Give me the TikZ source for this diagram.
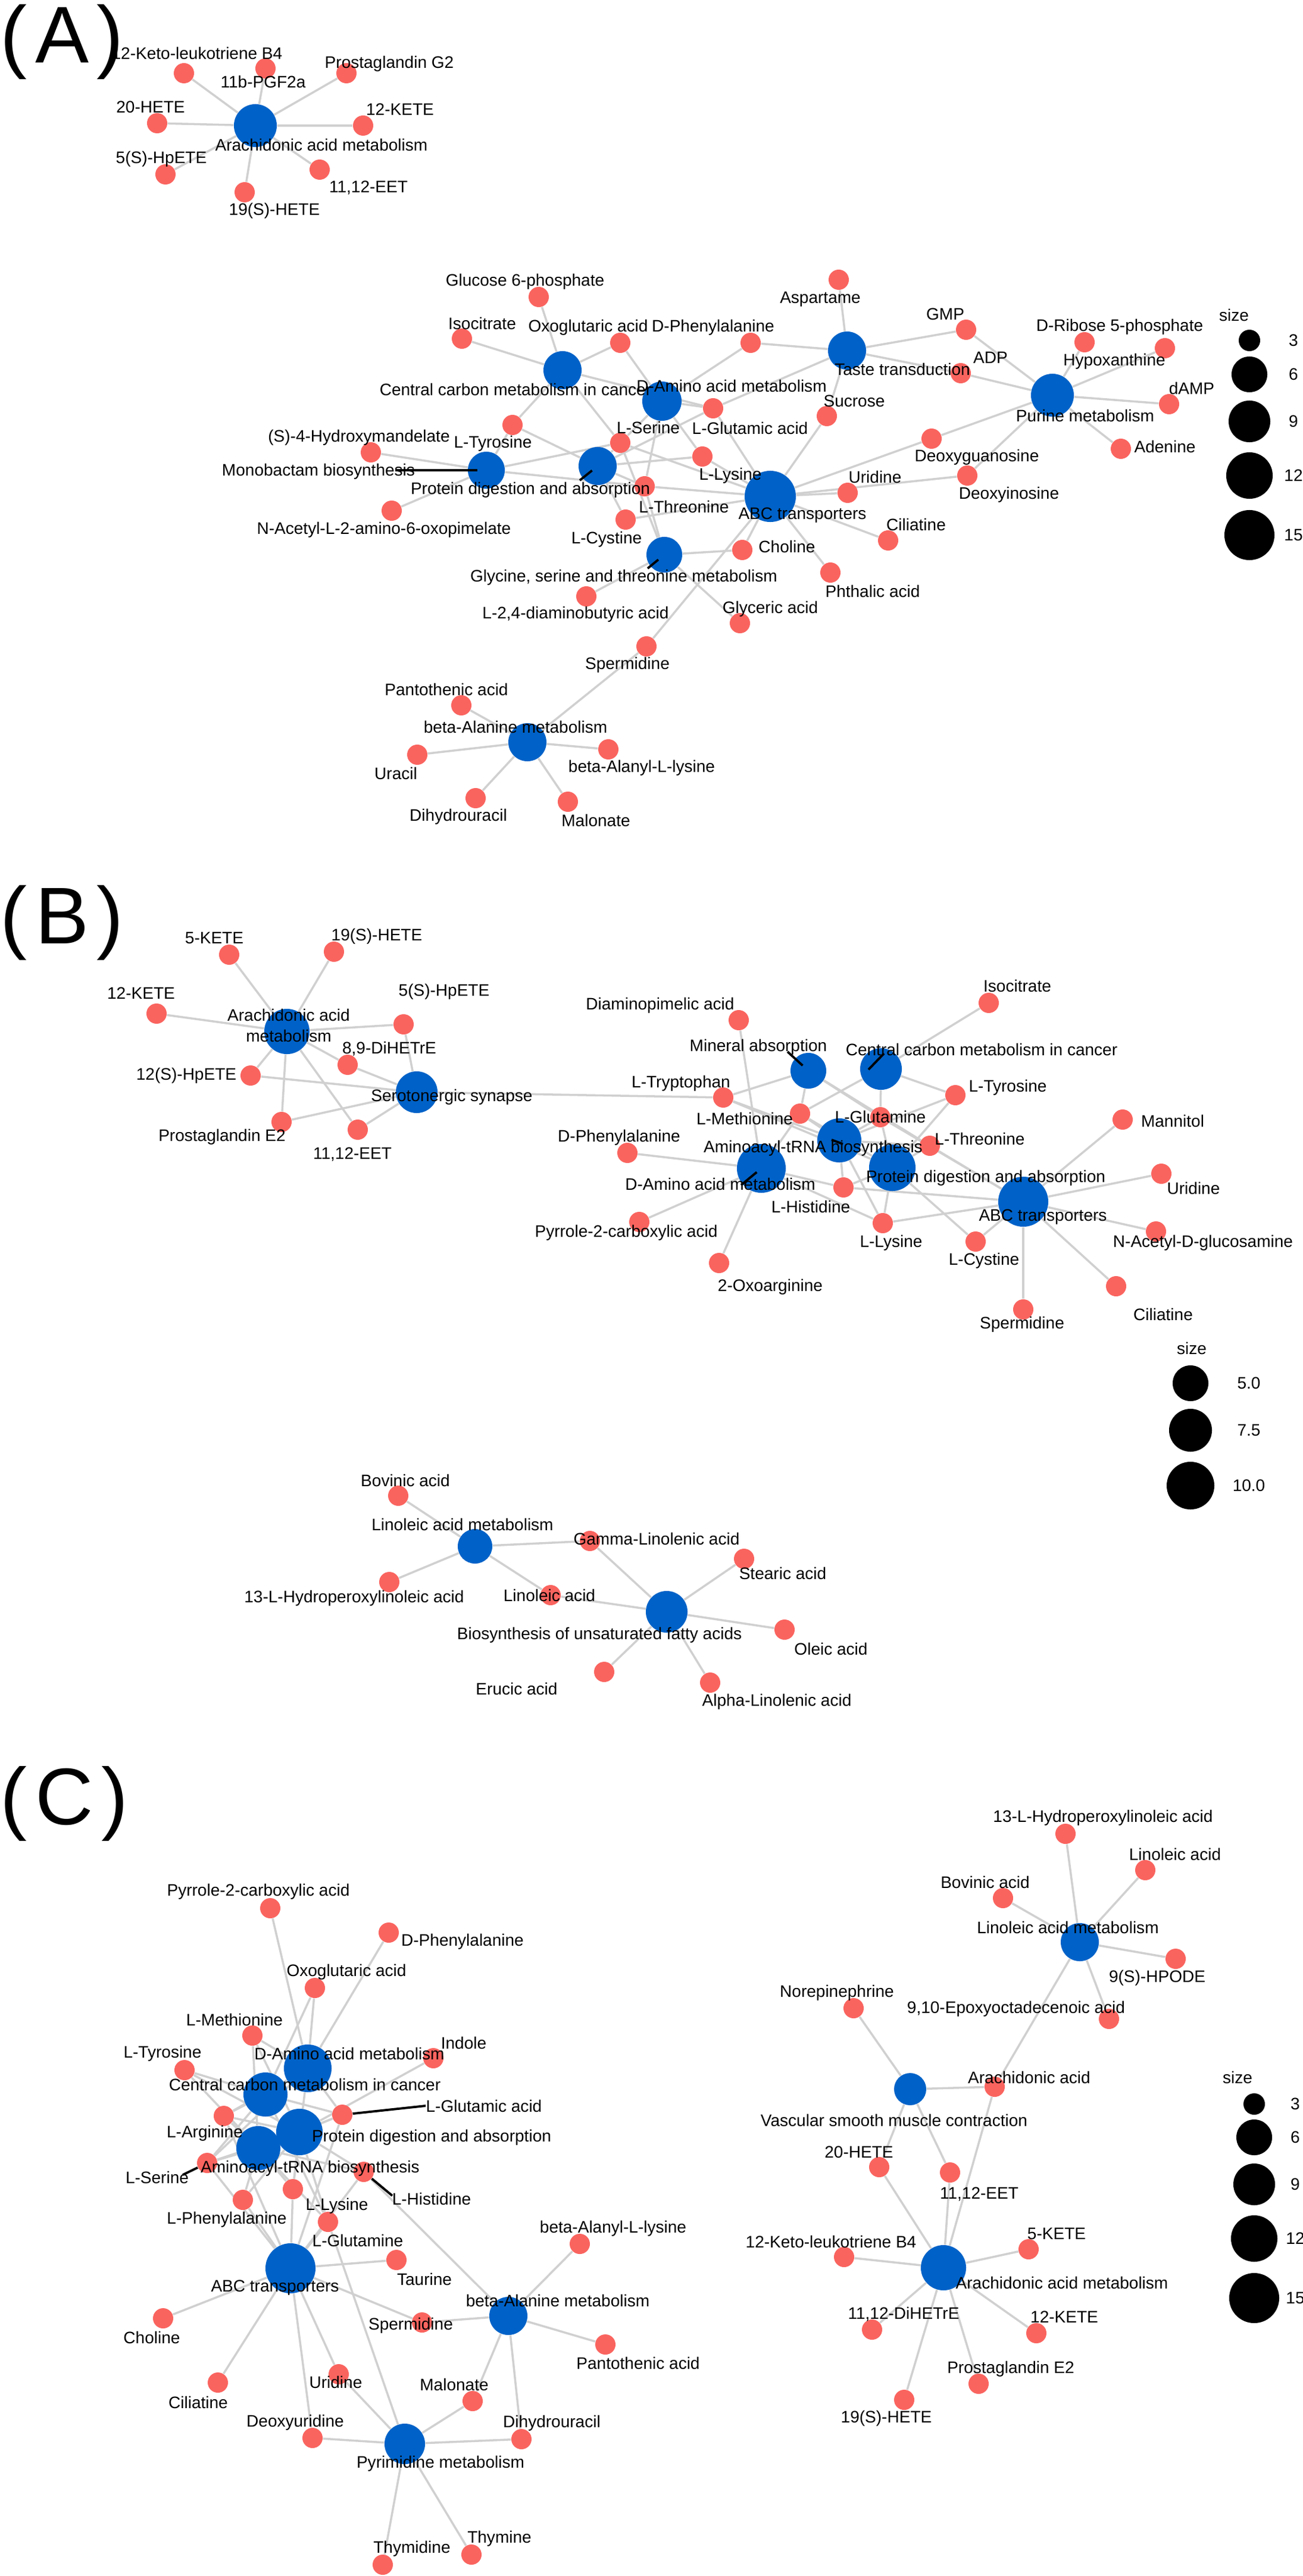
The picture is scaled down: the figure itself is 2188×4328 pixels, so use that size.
\documentclass[tikz,border=0pt]{standalone}
\usepackage{fontspec}
\setmainfont{Liberation Sans}

\definecolor{hubblue}{RGB}{0,98,200}
\definecolor{cpdred}{RGB}{250,100,95}
\definecolor{edgegray}{RGB}{208,208,208}
\newcommand\lblfont{\fontsize{7.97pt}{9.7pt}\selectfont}
\newcommand\tagfont{\fontsize{38.4pt}{40pt}\selectfont}

\pgfdeclarelayer{bg}
\pgfdeclarelayer{fg}
\pgfsetlayers{bg,main,fg}

\tikzset{
  hub/.style={circle, fill=hubblue, inner sep=0pt, minimum size=#1},
  cpd/.style={circle, fill=cpdred, inner sep=0pt, minimum size=0.34cm},
  lbl/.style={font=\lblfont, inner sep=0pt, align=center},
  edge/.style={draw=edgegray, line width=1pt},
  lead/.style={draw=black, line width=1.1pt},
  key/.style={circle, fill=black, inner sep=0pt, minimum size=#1},
  tag/.style={font=\tagfont, inner sep=0pt, anchor=base west},
}

\begin{document}
\begin{tikzpicture}[x=0.01cm, y=-0.01cm]
\useasboundingbox (0,0) rectangle (2188,4328);
\begin{pgfonlayer}{bg}
  \fill[white] (0,0) rectangle (2188,4328);
\end{pgfonlayer}

% panel tags
\node[tag] (tag-a) at (0,106) {(\kern.1em A\kern.1em)};
\node[tag] (tag-b) at (0,1585) {(\kern.1em B\kern.1em)};
\node[tag] (tag-c) at (0,3065) {(\kern.1em C\kern.1em)};

% pathways (name/x/y/radius/label x/label y/text)
\foreach \nm/\x/\y/\rad/\lx/\ly/\txt in {
  a-aam/429/211/36/540/243/Arachidonic acid metabolism,
  a-ccm/945/622/32/866/654/Central carbon metabolism in cancer,
  a-daa/1112/674/33/1229/648/D-Amino acid metabolism,
  a-mb/817/790/31/535/792/Monobactam biosynthesis,
  a-pda/1004/783/32/891/823/Protein digestion and absorption,
  a-abc/1294/834/43/1348/866/ABC transporters,
  a-gst/1116/932/30/1048/970/{Glycine, serine and threonine metabolism},
  a-tt/1423/589/32/1516/620/Taste transduction,
  a-pur/1768/664/36/1823/698/Purine metabolism,
  a-bam/886/1247/32/866/1221/beta-Alanine metabolism,
  b-aam/482/1733/38/485/1723/{Arachidonic acid\\metabolism},
  b-ss/700/1835/35/759/1843/Serotonergic synapse,
  b-ma/1358/1799/30/1274/1759/Mineral absorption,
  b-ccm/1480/1796/35/1649/1763/Central carbon metabolism in cancer,
  b-atr/1410/1916/37/1366/1929/Aminoacyl-tRNA biosynthesis,
  b-daa/1279/1963/41/1210/1989/D-Amino acid metabolism,
  b-pda/1499/1962/39/1656/1979/Protein digestion and absorption,
  b-abc/1719/2019/42/1752/2045/ABC transporters,
  b-lam/798/2598/29/777/2561/Linoleic acid metabolism,
  b-bufa/1120/2708/35/1007/2747/Biosynthesis of unsaturated fatty acids,
  c-daa/517/3475/40/587/3450/D-Amino acid metabolism,
  c-ccm/446/3519/37/512/3502/Central carbon metabolism in cancer,
  c-pda/503/3582/39/725/3591/Protein digestion and absorption,
  c-atr/434/3609/37/521/3643/Aminoacyl-tRNA biosynthesis,
  c-abc/488/3811/42/462/3844/ABC transporters,
  c-bam/854/3891/32/937/3865/beta-Alanine metabolism,
  c-pyr/680/4106/34/740/4139/Pyrimidine metabolism,
  c-lam/1814/3263/32/1794/3238/Linoleic acid metabolism,
  c-vsm/1529/3510/27/1502/3562/Vascular smooth muscle contraction,
  c-aam/1585/3810/38/1784/3835/Arachidonic acid metabolism%
} {
  \node[hub=\rad*0.02cm] (\nm) at (\x,\y) {};
  \begin{pgfonlayer}{fg}\node[lbl] (\nm-l) at (\lx,\ly) {\txt};\end{pgfonlayer}
}

% compounds (name/x/y/label x/label y/text)
\foreach \nm/\x/\y/\lx/\ly/\txt in {
  a-12kl/309/123/331/89/12-Keto-leukotriene B4,
  a-11b/446/115/442/137/11b-PGF2a,
  a-pgg2/582/123/654/107/Prostaglandin G2,
  a-20h/264/207/253/180/20-HETE,
  a-12k/610/211/672/184/12-KETE,
  a-5hp/278/293/271/267/5(S)-HpETE,
  a-eet/537/285/619/316/{11,12-EET},
  a-19h/411/323/461/354/19(S)-HETE,
  a-g6p/905/499/882/473/Glucose 6-phosphate,
  a-iso/776/569/810/543/Isocitrate,
  a-oxo/1042/576/988/550/Oxoglutaric acid,
  a-dphe/1261/576/1198/550/D-Phenylalanine,
  a-glu/1198/686/1260/719/L-Glutamic acid,
  a-tyr/861/714/828/745/L-Tyrosine,
  a-ser/1042/744/1089/718/L-Serine,
  a-hma/623/760/603/735/(S)-4-Hydroxymandelate,
  a-lys/1180/767/1227/799/L-Lysine,
  a-thr/1083/817/1149/851/L-Threonine,
  a-cys/1051/873/1019/906/L-Cystine,
  a-nac/658/858/645/890/N-Acetyl-L-2-amino-6-oxopimelate,
  a-cho/1247/924/1322/918/Choline,
  a-dab/985/1002/967/1032/{L-2,4-diaminobutyric acid},
  a-gly/1243/1047/1294/1023/Glyceric acid,
  a-pht/1395/962/1466/993/Phthalic acid,
  a-cil/1492/908/1539/881/Ciliatine,
  a-uri/1424/828/1470/801/Uridine,
  a-dino/1625/799/1695/831/Deoxyinosine,
  a-dguo/1565/737/1641/768/Deoxyguanosine,
  a-suc/1389/699/1435/674/Sucrose,
  a-asp/1409/470/1378/503/Aspartame,
  a-gmp/1623/554/1588/528/GMP,
  a-adp/1614/627/1664/601/ADP,
  a-r5p/1822/575/1881/549/D-Ribose 5-phosphate,
  a-hyp/1957/585/1872/607/Hypoxanthine,
  a-damp/1964/679/2002/652/dAMP,
  a-ade/1883/754/1957/750/Adenine,
  a-spd/1086/1086/1054/1117/Spermidine,
  a-pan/775/1185/750/1158/Pantothenic acid,
  a-ura/701/1268/665/1299/Uracil,
  a-bal/1022/1259/1078/1290/beta-Alanyl-L-lysine,
  a-dhu/799/1341/770/1372/Dihydrouracil,
  a-mal/954/1347/1001/1378/Malonate,
  b-5kete/385/1604/360/1576/5-KETE,
  b-19h/561/1599/633/1573/19(S)-HETE,
  b-12kete/263/1703/237/1669/12-KETE,
  b-5hp/678/1721/746/1666/5(S)-HpETE,
  b-89d/584/1789/654/1762/{8,9-DiHETrE},
  b-12shp/421/1807/313/1807/12(S)-HpETE,
  b-pge2/473/1885/373/1910/Prostaglandin E2,
  b-eet/601/1898/592/1939/{11,12-EET},
  b-iso/1661/1685/1709/1656/Isocitrate,
  b-dap/1241/1714/1109/1689/Diaminopimelic acid,
  b-trp/1215/1844/1144/1820/L-Tryptophan,
  b-tyr/1605/1840/1693/1827/L-Tyrosine,
  b-met/1344/1871/1251/1879/L-Methionine,
  b-gln/1479/1877/1479/1876/L-Glutamine,
  b-man/1886/1881/1970/1883/Mannitol,
  b-dphe/1054/1937/1040/1911/D-Phenylalanine,
  b-thr/1562/1925/1646/1913/L-Threonine,
  b-his/1417/1995/1362/2027/L-Histidine,
  b-uri/1951/1972/2005/1996/Uridine,
  b-pyr/1074/2053/1052/2071/Pyrrole-2-carboxylic acid,
  b-lys/1483/2055/1497/2088/L-Lysine,
  b-nag/1942/2069/2021/2088/N-Acetyl-D-glucosamine,
  b-cys/1639/2086/1653/2118/L-Cystine,
  b-oxa/1208/2122/1294/2162/2-Oxoarginine,
  b-cil/1875/2161/1954/2208/Ciliatine,
  b-spd/1719/2200/1717/2225/Spermidine,
  b-bov/669/2513/681/2487/Bovinic acid,
  b-gla/991/2589/1103/2585/Gamma-Linolenic acid,
  b-hpl/654/2658/595/2685/13-L-Hydroperoxylinoleic acid,
  b-lin/925/2680/923/2680/Linoleic acid,
  b-ste/1250/2619/1315/2643/Stearic acid,
  b-ole/1318/2738/1396/2770/Oleic acid,
  b-eru/1015/2809/868/2837/Erucic acid,
  b-ala/1193/2827/1305/2859/Alpha-Linolenic acid,
  c-pyc/454/3206/434/3178/Pyrrole-2-carboxylic acid,
  c-dphe/653/3247/777/3262/D-Phenylalanine,
  c-oxo/529/3340/582/3313/Oxoglutaric acid,
  c-met/424/3420/394/3393/L-Methionine,
  c-tyr/310/3478/273/3450/L-Tyrosine,
  c-ind/728/3458/779/3432/Indole,
  c-glu/575/3553/813/3538/L-Glutamic acid,
  c-arg/376/3555/344/3584/L-Arginine,
  c-ser/348/3634/264/3658/L-Serine,
  c-his/611/3649/725/3694/L-Histidine,
  c-lys/492/3678/566/3706/L-Lysine,
  c-phe/408/3696/381/3729/L-Phenylalanine,
  c-gln/551/3733/601/3764/L-Glutamine,
  c-tau/666/3797/713/3829/Taurine,
  c-bal/974/3770/1030/3744/beta-Alanyl-L-lysine,
  c-spd/709/3902/690/3907/Spermidine,
  c-pan/1017/3939/1072/3970/Pantothenic acid,
  c-cho/274/3895/255/3927/Choline,
  c-cil/366/4003/333/4036/Ciliatine,
  c-uri/569/3989/564/4002/Uridine,
  c-mal/794/4034/763/4006/Malonate,
  c-dur/525/4096/496/4070/Deoxyuridine,
  c-dhu/876/4098/927/4071/Dihydrouracil,
  c-thd/643/4309/692/4282/Thymidine,
  c-thy/792/4292/839/4265/Thymine,
  c-hpl/1790/3081/1853/3054/13-L-Hydroperoxylinoleic acid,
  c-lin/1924/3142/1974/3115/Linoleic acid,
  c-bov/1685/3189/1655/3162/Bovinic acid,
  c-hpode/1975/3291/1944/3323/9(S)-HPODE,
  c-nor/1434/3374/1406/3348/Norepinephrine,
  c-epo/1863/3392/1707/3375/{9,10-Epoxyoctadecenoic acid},
  c-ara/1671/3506/1729/3490/Arachidonic acid,
  c-20h/1477/3641/1443/3616/20-HETE,
  c-eet/1596/3650/1645/3686/{11,12-EET},
  c-12kl/1418/3792/1396/3766/12-Keto-leukotriene B4,
  c-5k/1728/3779/1775/3753/5-KETE,
  c-dih/1465/3914/1518/3888/{11,12-DiHETrE},
  c-12k/1741/3920/1788/3893/12-KETE,
  c-pge2/1644/4005/1698/3980/Prostaglandin E2,
  c-19h/1519/4032/1489/4063/19(S)-HETE%
} {
  \node[cpd] (\nm) at (\x,\y) {};
  \begin{pgfonlayer}{fg}\node[lbl] (\nm-l) at (\lx,\ly) {\txt};\end{pgfonlayer}
}

% pathway -- compound edges
\begin{pgfonlayer}{bg}
\foreach \h/\lst in {
  a-aam/{a-12kl,a-11b,a-pgg2,a-20h,a-12k,a-5hp,a-eet,a-19h},
  a-ccm/{a-g6p,a-iso,a-oxo,a-tyr,a-glu,a-ser},
  a-daa/{a-oxo,a-dphe,a-glu,a-ser,a-lys,a-thr},
  a-mb/{a-hma,a-nac,a-tyr,a-ser,a-thr},
  a-pda/{a-tyr,a-ser,a-lys,a-thr,a-cys,a-glu},
  a-gst/{a-ser,a-thr,a-cho,a-dab,a-gly},
  a-abc/{a-glu,a-lys,a-thr,a-ser,a-cys,a-cho,a-cil,a-pht,a-uri,a-dino,a-dguo,a-suc,a-spd},
  a-tt/{a-dphe,a-asp,a-gmp,a-adp,a-glu,a-suc},
  a-pur/{a-gmp,a-adp,a-r5p,a-hyp,a-damp,a-ade,a-dguo,a-dino},
  a-bam/{a-spd,a-pan,a-ura,a-bal,a-dhu,a-mal},
  b-aam/{b-5kete,b-19h,b-12kete,b-5hp,b-89d,b-12shp,b-pge2,b-eet},
  b-ss/{b-5hp,b-89d,b-12shp,b-pge2,b-eet,b-trp},
  b-ma/{b-trp,b-met,b-gln,b-thr},
  b-ccm/{b-iso,b-tyr,b-gln,b-met},
  b-atr/{b-trp,b-met,b-gln,b-tyr,b-thr,b-his,b-lys},
  b-daa/{b-dap,b-dphe,b-pyr,b-oxa,b-met,b-lys,b-his},
  b-pda/{b-trp,b-met,b-gln,b-tyr,b-thr,b-his,b-lys,b-cys},
  b-abc/{b-gln,b-thr,b-his,b-lys,b-cys,b-man,b-uri,b-nag,b-cil,b-spd},
  b-lam/{b-bov,b-gla,b-hpl,b-lin},
  b-bufa/{b-gla,b-lin,b-ste,b-ole,b-eru,b-ala},
  c-daa/{c-pyc,c-dphe,c-oxo,c-met,c-glu,c-arg,c-ser,c-lys},
  c-ccm/{c-oxo,c-tyr,c-glu,c-ser,c-gln,c-arg},
  c-pda/{c-met,c-tyr,c-ind,c-glu,c-arg,c-ser,c-his,c-lys,c-phe,c-gln},
  c-atr/{c-met,c-tyr,c-glu,c-arg,c-ser,c-his,c-lys,c-phe,c-gln},
  c-abc/{c-glu,c-arg,c-ser,c-his,c-lys,c-phe,c-gln,c-tau,c-cho,c-cil,c-uri,c-dur,c-spd},
  c-bam/{c-his,c-spd,c-bal,c-pan,c-mal,c-dhu},
  c-pyr/{c-gln,c-uri,c-dur,c-mal,c-dhu,c-thd,c-thy},
  c-lam/{c-hpl,c-lin,c-bov,c-hpode,c-epo,c-ara},
  c-vsm/{c-nor,c-ara,c-20h,c-eet},
  c-aam/{c-ara,c-20h,c-eet,c-12kl,c-5k,c-dih,c-12k,c-pge2,c-19h}%
} {\foreach \cp in \lst {\draw[edge] (\h) -- (\cp);}}
\end{pgfonlayer}

% label leaders
\begin{pgfonlayer}{fg}
  \coordinate (a-mb-s) at (664,790);
  \draw[lead, shorten >=0.15cm] (a-mb-s) -- (a-mb.center);
  \coordinate (a-pda-s) at (974,807);
  \draw[lead, shorten >=0.12cm] (a-pda-s) -- (a-pda.center);
  \coordinate (a-gst-s) at (1088,955);
  \draw[lead, shorten >=0.13cm] (a-gst-s) -- (a-gst.center);
  \coordinate (b-ma-s) at (1323,1767);
  \draw[lead, shorten >=0.13cm] (b-ma-s) -- (b-ma.center);
  \coordinate (b-ccm-s) at (1485,1770);
  \coordinate (b-ccm-e) at (1459,1797);
  \draw[lead] (b-ccm-s) -- (b-ccm-e);
  \coordinate (b-atr-s) at (1397,1915);
  \coordinate (b-atr-e) at (1416,1922);
  \draw[lead] (b-atr-s) -- (b-atr-e);
  \coordinate (b-daa-s) at (1245,1991);
  \draw[lead, shorten >=0.1cm] (b-daa-s) -- (b-daa.center);
  \draw[lead] (c-glu) -- (c-glu-l.west);
  \coordinate (c-ser-s) at (307,3654);
  \draw[lead] (c-ser-s) -- (c-ser);
  \coordinate (c-his-e) at (659,3689);
  \draw[lead] (c-his) -- (c-his-e);
\end{pgfonlayer}

% size legends
\node[lbl] (a-size) at (2073,529) {size};
\foreach \v/\y/\rad in {3/572/18, 6/629/30, 9/708/35, 12/799/39, 15/899/42} {
  \node[key=\rad*0.02cm] (a-k\v) at (2099,\y) {};
  \node[lbl] (a-k\v-l) at (2173,\y) {\v};
}
\node[lbl] (b-size) at (2002,2265) {size};
\foreach \i/\v/\y/\rad in {1/5.0/2324/30, 2/7.5/2403/36, 3/10.0/2496/40} {
  \node[key=\rad*0.02cm] (b-k\i) at (2000,\y) {};
  \node[lbl] (b-k\i-l) at (2098,\y) {\v};
}
\node[lbl] (c-size) at (2079,3490) {size};
\foreach \v/\y/\rad in {3/3535/18, 6/3591/30, 9/3670/35, 12/3761/39, 15/3861/42} {
  \node[key=\rad*0.02cm] (c-k\v) at (2107,\y) {};
  \node[lbl] (c-k\v-l) at (2176,\y) {\v};
}
\end{tikzpicture}
\end{document}
